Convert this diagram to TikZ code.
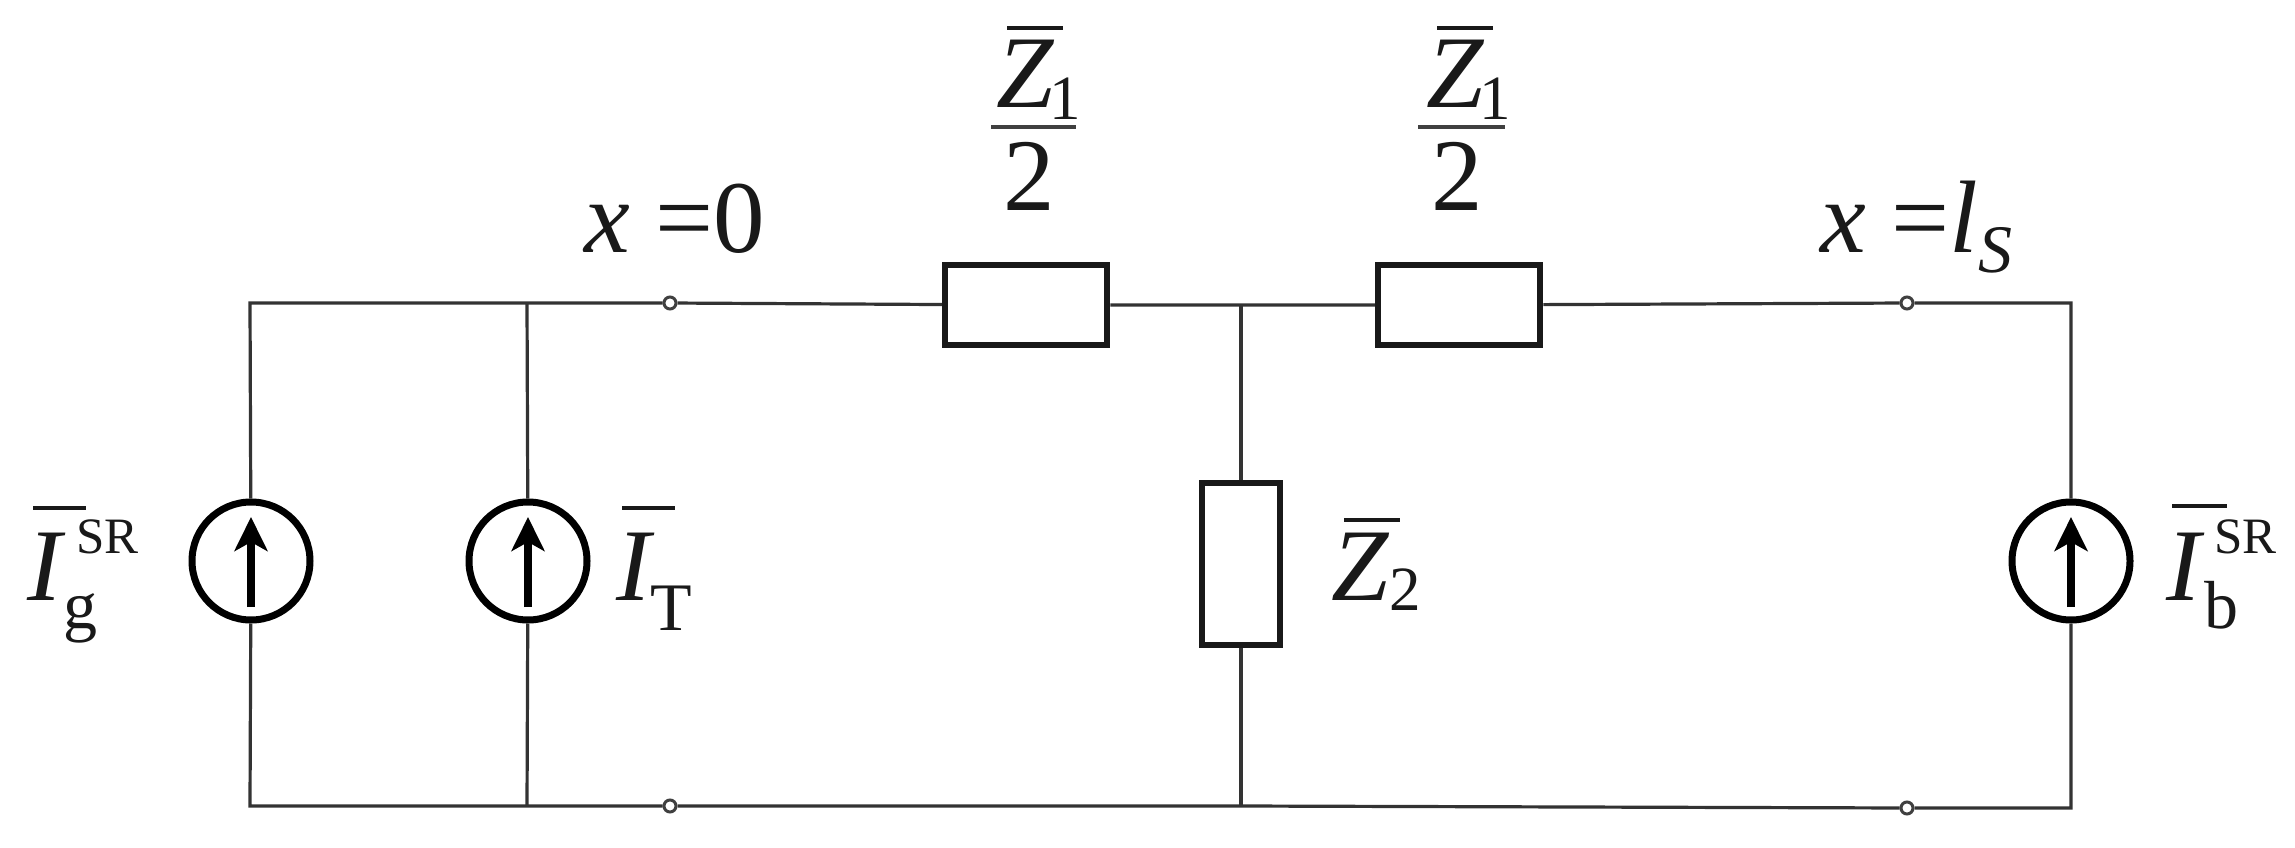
\documentclass[tikz,border=0pt]{standalone}
\usepackage{fontspec}
\setmainfont{Liberation Serif}
\usetikzlibrary{arrows.meta}
\newcommand\bigf{\fontsize{103}{103}\selectfont}
\newcommand\subf{\fontsize{68}{68}\selectfont}
\newcommand\zsubf{\fontsize{63}{63}\selectfont}
\newcommand\supf{\fontsize{51}{51}\selectfont}
% glyph with an overline: #1 left offset, #2 bar width, #3 raise, #4 glyph
\newcommand\barred[4]{\rlap{\kern#1pt\rule[#3pt]{#2pt}{4pt}}#4}
\tikzset{
  wire/.style={line width=3.2pt,draw=black!80},
  imp/.style={draw=black!90,line width=6.5pt,fill=white,inner sep=0pt},
  src/.style={circle,draw=black,line width=7pt,fill=white,inner sep=0pt,minimum size=118pt},
  term/.style={circle,draw=black!75,line width=3pt,fill=white,inner sep=0pt,minimum size=12pt},
  lab/.style={anchor=base west,inner sep=0pt,text=black!90},
  cur/.style={-{Stealth[length=34pt,width=33pt,inset=9pt]},line width=8pt,black},
  fracbar/.style={line width=4.5pt,black!75}
}
\begin{document}
\begin{tikzpicture}[x=1pt,y=-1pt]
\useasboundingbox (0,0) rectangle (2295,848);
\fill[white] (0,0) rectangle (2295,848);
% corners and junctions
\coordinate (tl) at (250,303);
\coordinate (tb) at (527,303);
\coordinate (jt) at (1241,305);
\coordinate (tr) at (2071,303);
\coordinate (bl) at (250,806);
\coordinate (bb) at (527,806);
\coordinate (jb) at (1241,806);
\coordinate (br) at (2071,808);
% elements
\node[term] (t1) at (670,303) {};
\node[term] (t2) at (670,806) {};
\node[term] (t3) at (1907,303) {};
\node[term] (t4) at (1907,808) {};
\node[imp,minimum width=162pt,minimum height=80pt] (r1) at (1026,305) {};
\node[imp,minimum width=162pt,minimum height=80pt] (r2) at (1459,305) {};
\node[imp,minimum width=78pt,minimum height=162pt] (r3) at (1241,564) {};
\node[src] (s1) at (251,561) {};
\node[src] (s2) at (528,561) {};
\node[src] (s3) at (2071,561) {};
% wires
\draw[wire] (s1) -- (tl) -- (tb) -- (t1) -- (r1) -- (jt) -- (r2) -- (t3) -- (tr) -- (s3);
\draw[wire] (s1) -- (bl) -- (bb) -- (t2) -- (jb) -- (t4) -- (br) -- (s3);
\draw[wire] (s2) -- (tb);
\draw[wire] (s2) -- (bb);
\draw[wire] (r3) -- (jt);
\draw[wire] (r3) -- (jb);
% arrows inside the sources
\draw[cur] (s1.center) ++(0,46) -- ++(0,-90);
\draw[cur] (s2.center) ++(0,46) -- ++(0,-90);
\draw[cur] (s3.center) ++(0,46) -- ++(0,-90);
% labels
\node[lab] (lx0) at (584,252) {\bigf\textit{x} =0};
\node[lab] (lxs) at (1820,252) {\bigf\textit{x} =\textit{l}\raisebox{-20pt}{\subf\textit{S}}};
\node[lab] (z1a) at (996,108) {\bigf\barred{11}{56}{78}{\textit{Z}}\kern-5pt\raisebox{-12pt}{\zsubf 1}};
\node[lab] (z1b) at (1426,108) {\bigf\barred{11}{56}{78}{\textit{Z}}\kern-5pt\raisebox{-12pt}{\zsubf 1}};
\node[lab] (two1) at (1003,210) {\bigf 2};
\node[lab] (two2) at (1431,210) {\bigf 2};
\coordinate (fa1) at (991,127);\coordinate (fa2) at (1076,127);
\coordinate (fb1) at (1418,127);\coordinate (fb2) at (1505,127);
\draw[fracbar] (fa1) -- (fa2);
\draw[fracbar] (fb1) -- (fb2);
\node[lab] (z2) at (1331,600) {\bigf\barred{13}{56}{78}{\textit{Z}}\raisebox{-10pt}{\zsubf 2}};
\node[lab] (ig) at (27,600) {\bigf\barred{6}{53}{90}{\textit{I}}\kern-2pt\rlap{\raisebox{47pt}{\kern13pt\supf SR}}\raisebox{-28pt}{\subf g}};
\node[lab] (it) at (616,600) {\bigf\barred{6}{53}{90}{\textit{I}}\kern-4pt\raisebox{-30pt}{\subf T}};
\node[lab] (ib) at (2166,600) {\bigf\barred{6}{55}{92}{\textit{I}}\rlap{\raisebox{47pt}{\kern10pt\supf SR}}\raisebox{-28pt}{\subf b}};
\end{tikzpicture}
\end{document}
